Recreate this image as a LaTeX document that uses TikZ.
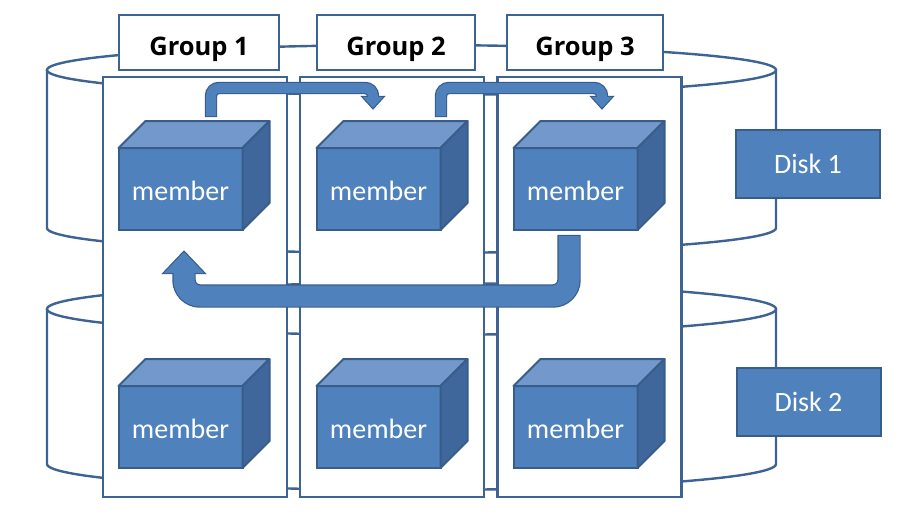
\documentclass[tikz,border=0pt]{standalone}
\usepackage{fontspec}
\setmainfont{Carlito}
\newfontfamily\grpfont{Open Sans}
\usetikzlibrary{calc}
\definecolor{bfill}{HTML}{4F81BD}
\definecolor{bedge}{HTML}{385D8A}
\definecolor{btop}{HTML}{7399CC}
\definecolor{bside}{HTML}{3F679B}
\definecolor{lineb}{HTML}{3D6394}
\newcommand\mycube[3]{%
  \node[member] (#1) at (#2,#3) {member};
  \filldraw[face, fill=btop] (#1.north west) -- ++(27,-27) -- ($(#1.north east)+(27,-27)$) -- (#1.north east) -- cycle;
  \filldraw[face, fill=bside] (#1.north east) -- ++(27,-27) -- ($(#1.south east)+(27,-27)$) -- (#1.south east) -- cycle;
}
\begin{document}
\begin{tikzpicture}[x=1pt,y=-1pt,
  outl/.style={draw=lineb, line width=2.4pt},
  column/.style={outl, fill=white, minimum width=184pt, minimum height=420pt, inner sep=0pt, outer sep=0pt},
  grp/.style={outl, fill=white, minimum height=55pt, inner sep=0pt, outer sep=0pt, text height=26pt, text depth=0pt, font=\grpfont\bfseries\fontsize{25.5}{25.5}\selectfont},
  member/.style={fill=bfill, draw=bedge, line width=2pt, minimum width=124pt, minimum height=82pt, inner sep=0pt, outer sep=0pt, text=white, font=\fontsize{28}{28}\selectfont, text height=23pt, text depth=0pt},
  disk/.style={fill=bfill, draw=bedge, line width=2pt, minimum width=144pt, minimum height=68pt, inner sep=0pt, outer sep=0pt, text=white, font=\fontsize{28}{28}\selectfont},
  face/.style={draw=bedge, line width=2pt, line join=round}
]
\useasboundingbox (0,0) rectangle (900,517);
% cylinders
\draw[outl] (47,70) -- (47,228) arc[start angle=180, end angle=0, x radius=364.5, y radius=25] -- (776,70);
\draw[outl] (411.5,70) ellipse[x radius=364.5, y radius=25];
\draw[outl] (47,309) -- (47,464) arc[start angle=180, end angle=0, x radius=364.5, y radius=26] -- (776,309);
\draw[outl] (411.5,309) ellipse[x radius=364.5, y radius=26];
% columns
\node[column] (col1) at (195,287) {};
\node[column] (col2) at (392,287) {};
\node[column] (col3) at (589.5,287) {};
% group labels
\node[grp, minimum width=160pt] (g1) at (199,42.5) {Group 1};
\node[grp, minimum width=158pt] (g2) at (396,42.5) {Group 2};
\node[grp, minimum width=156pt] (g3) at (585,42.5) {Group 3};
% disks
\node[disk] (d1) at (808,164) {Disk 1};
\node[disk] (d2) at (808.5,401.5) {Disk 2};
% members
\mycube{m11}{180.5}{189}
\mycube{m12}{378.5}{189}
\mycube{m13}{575.5}{189}
\mycube{m21}{180.5}{427}
\mycube{m22}{378.5}{427}
\mycube{m23}{575.5}{427}
% arrows
\coordinate (a1s) at ($(m11.north)+(30.5,-32)$);
\coordinate (a1e) at ($(m12.north)+(-5.5,-50)$);
\coordinate (a2s) at ($(m12.north)+(62.5,-32)$);
\coordinate (a2e) at ($(m13.north)+(26.5,-50)$);
\coordinate (a3s) at ($(m13.south)+(-6.5,6)$);
\coordinate (a3e) at ($(m11.south)+(3.5,43)$);
% arrow 1
\draw[bedge, line width=12.4pt, rounded corners=8pt] ($(a1s)+(0,1.2)$) |- ($(a1e)+(0,-10)$) -- ($(a1e)+(0,2)$);
\filldraw[bedge, line width=2.4pt, line join=miter] ($(a1e)+(-10,-1)$) -- ($(a1e)+(10,-1)$) -- ($(a1e)+(0,10)$) -- cycle;
\draw[bfill, line width=10pt, rounded corners=8pt] (a1s) |- ($(a1e)+(0,-10)$) -- ($(a1e)+(0,2)$);
\fill[bfill] ($(a1e)+(-10,-1)$) -- ($(a1e)+(10,-1)$) -- ($(a1e)+(0,10)$) -- cycle;
% arrow 2
\draw[bedge, line width=12.4pt, rounded corners=8pt] ($(a2s)+(0,1.2)$) |- ($(a2e)+(0,-10)$) -- ($(a2e)+(0,2)$);
\filldraw[bedge, line width=2.4pt, line join=miter] ($(a2e)+(-10,-1)$) -- ($(a2e)+(10,-1)$) -- ($(a2e)+(0,10)$) -- cycle;
\draw[bfill, line width=10pt, rounded corners=8pt] (a2s) |- ($(a2e)+(0,-10)$) -- ($(a2e)+(0,2)$);
\fill[bfill] ($(a2e)+(-10,-1)$) -- ($(a2e)+(10,-1)$) -- ($(a2e)+(0,10)$) -- cycle;
% arrow 3
\draw[bedge, line width=23.4pt, rounded corners=16pt] ($(a3s)+(0,-1.2)$) |- ($(a3e)+(0,23)$) -- ($(a3e)+(0,-2)$);
\filldraw[bedge, line width=2.4pt, line join=miter] ($(a3e)+(-20,0)$) -- ($(a3e)+(20,0)$) -- ($(a3e)+(0,-21)$) -- cycle;
\draw[bfill, line width=21pt, rounded corners=16pt] (a3s) |- ($(a3e)+(0,23)$) -- ($(a3e)+(0,-2)$);
\fill[bfill] ($(a3e)+(-20,0)$) -- ($(a3e)+(20,0)$) -- ($(a3e)+(0,-21)$) -- cycle;
\end{tikzpicture}
\end{document}
